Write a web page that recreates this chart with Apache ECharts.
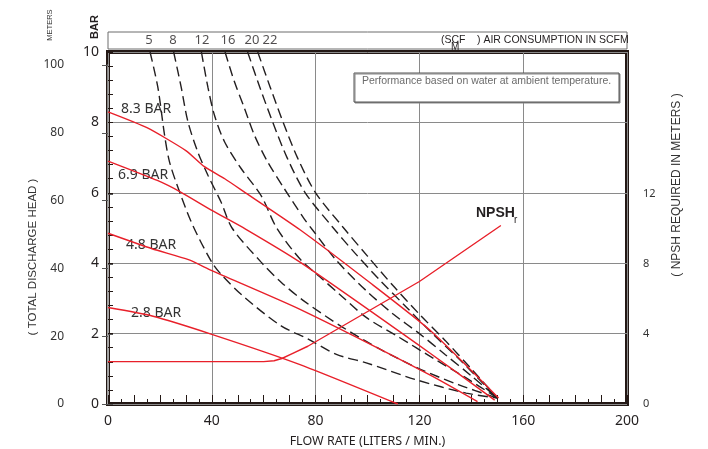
<!DOCTYPE html>
<html lang="en">
<head>
<meta charset="UTF-8">
<title>Pump performance curve</title>
<script src="https://cdn.jsdelivr.net/npm/echarts/dist/echarts.min.js"></script>
</head>
<body style="margin:0;background:#fff">
<div id="box" style="width:708px;height:449px;"></div>
<script>
    // red head curves (flow l/min, head bar)
    var bar83 = [[0, 8.3], [15, 7.85], [30, 7.2], [37, 6.75], [45, 6.4], [53, 6.0], [74, 4.95], [100, 3.5], [124, 2.1], [150.5, 0.17]];
    var bar69 = [[0, 6.9], [19, 6.35], [28, 6.02], [40, 5.5], [53, 4.97], [74, 4.03], [124, 1.45], [149, 0.11]];
    var bar48 = [[0, 4.85], [17, 4.41], [31, 4.1], [40, 3.79], [74, 2.69], [124, 0.83], [142.4, 0.07]];
    var bar28 = [[0, 2.74], [17, 2.5], [40, 1.98], [74, 1.12], [111.7, 0]];
    var barNames = ["8.3 BAR", "6.9 BAR", "4.8 BAR", "2.8 BAR"];

    // dashed air consumption curves (SCFM)
    var scfm5 = [[16.2, 10], [19.2, 9], [21.8, 7.64], [23.7, 6.88], [27.6, 6.02], [32.7, 5.07], [40, 4.03], [44, 3.65], [52.6, 3.03], [66.7, 2.22], [77, 1.85], [88, 1.41], [99.5, 1.17], [118.7, 0.69], [138, 0.31], [150, 0.17]];
    var scfm8 = [[25.3, 10], [28.2, 9], [30.8, 8.02], [34.6, 7.16], [38.5, 6.5], [43.6, 5.73], [47.8, 5.0], [59, 4.03], [66.7, 3.46], [76, 2.9], [90, 2.2], [105, 1.55], [120, 1.0], [135, 0.55], [150, 0.17]];
    var scfm12 = [[36, 10], [38.5, 9], [41, 8.21], [44.9, 7.45], [51.3, 6.69], [59, 5.92], [65, 5.0], [74, 4.12], [81.5, 3.62], [89.2, 3.12], [99.5, 2.46], [112.3, 1.89], [125.1, 1.31], [138, 0.74], [150, 0.17]];
    var scfm16 = [[45.1, 10], [48.7, 9.16], [52.6, 8.4], [56.4, 7.64], [61.5, 6.88], [68, 6.11], [75.6, 5.26], [79, 4.93], [88, 4.08], [99.5, 3.22], [110, 2.55], [120, 2.0], [130, 1.4], [140, 0.8], [150, 0.17]];
    var scfm20 = [[53.8, 10], [58.5, 9], [63.5, 8], [69, 7], [76, 6], [86.5, 5.03], [95, 4.3], [105, 3.5], [115, 2.75], [125, 2.0], [135, 1.3], [143, 0.7], [150, 0.17]];
    var scfm22 = [[57.7, 10], [62.5, 9], [67.5, 8], [73, 7], [80, 6], [90.5, 5.03], [100, 4.2], [110, 3.35], [120, 2.55], [130, 1.8], [140, 1.0], [150, 0.17]];
    var scfmLabels = ["5", "8", "12", "16", "20", "22"];
    var scfmLabelFlow = [15.8, 25, 36.2, 46.2, 55.5, 62.4];

    // NPSH required (flow l/min, meters)
    var npsh = [[0, 2.42], [60, 2.42], [64, 2.47], [67, 2.6], [71, 2.88], [77, 3.3], [120, 7.0], [151.4, 10.2]];

    var dark = "#231815";
    var red = "#e8202a";
    var gridLine = "#8a8a8a";

    var box = echarts.init(document.getElementById("box"));

    var dashed = [scfm5, scfm8, scfm12, scfm16, scfm20, scfm22].map(function (d) {
        return {
            type: "line", xAxisIndex: 0, yAxisIndex: 0, data: d,
            smooth: 0.3, showSymbol: false, symbol: "none", silent: true,
            lineStyle: { color: "#231f20", width: 1.4, type: [10, 5] }
        };
    });
    var reds = [bar83, bar69, bar48, bar28].map(function (d) {
        return {
            type: "line", xAxisIndex: 0, yAxisIndex: 0, data: d,
            smooth: 0.2, showSymbol: false, symbol: "none", silent: true, z: 3,
            lineStyle: { color: red, width: 1.4 }
        };
    });

    var labelPos = [[121, 112], [118, 178], [126, 248], [131, 316]];
    var texts = barNames.map(function (n, i) {
        return {
            type: "text", left: labelPos[i][0], top: labelPos[i][1] - 10,
            style: { text: n, fontSize: 14, fontFamily: "Noto Sans", fill: "#333" }
        };
    });

    var option = {
        animation: false,
        textStyle: { fontFamily: "Noto Sans" },
        grid: [
            { left: 108, right: 81, top: 52, bottom: 45, outerBoundsMode: "none", show: true, borderWidth: 4, borderColor: dark },
            { left: 108, right: 81, top: 65, bottom: 45, outerBoundsMode: "none" },
            { left: 108, right: 81, top: 194, bottom: 45, outerBoundsMode: "none" },
            { left: 108, right: 81, top: 32, height: 17, outerBoundsMode: "none", show: true, borderWidth: 1, borderColor: "#6d6d6d" }
        ],
        xAxis: [
            {
                type: "value", gridIndex: 0, min: 0, max: 200, interval: 40,
                axisLine: { show: false }, axisTick: { show: false },
                axisLabel: { color: "#231f20", fontSize: 14, margin: 10 },
                splitLine: { show: true, lineStyle: { color: gridLine, width: 1 } },
                name: "FLOW RATE (LITERS / MIN.)", nameLocation: "middle", nameGap: 31,
                nameTextStyle: { fontSize: 12.5, color: "#231f20" }
            },
            {
                type: "value", gridIndex: 0, min: 0, max: 200, interval: 10, position: "bottom",
                axisLine: { show: false }, axisLabel: { show: false }, splitLine: { show: false },
                axisTick: { show: true, inside: true, length: 9, lineStyle: { color: dark, width: 1 } },
                minorTick: { show: true, splitNumber: 2, length: 5, lineStyle: { color: dark, width: 1 } }
            },
            { type: "value", gridIndex: 1, min: 0, max: 200, show: false },
            { type: "value", gridIndex: 2, min: 0, max: 200, show: false },
            { type: "value", gridIndex: 3, min: 0, max: 200, show: false }
        ],
        yAxis: [
            {
                type: "value", gridIndex: 0, min: 0, max: 10, interval: 2,
                axisLine: { show: false },
                axisTick: { show: true, inside: true, length: 5, lineStyle: { color: dark } },
                minorTick: { show: true, splitNumber: 5, length: 5, lineStyle: { color: dark } },
                axisLabel: { color: "#231f20", fontSize: 14, margin: 9 },
                splitLine: { show: true, lineStyle: { color: gridLine, width: 1 } }
            },
            {
                type: "value", gridIndex: 1, min: 0, max: 100, interval: 20, position: "left", offset: 41,
                axisLine: { show: true, lineStyle: { color: "#a8a8a8", width: 1.5 } },
                axisTick: { show: true, length: 6, lineStyle: { color: "#555" } },
                axisLabel: { color: "#333", fontSize: 12, margin: 3 },
                splitLine: { show: false }
            },
            {
                type: "value", gridIndex: 2, min: 0, max: 12, interval: 4, position: "right", offset: 11,
                axisLine: { show: true, lineStyle: { color: "#a8a8a8", width: 1.5 } },
                axisTick: { show: true, length: 5, lineStyle: { color: "#555" } },
                axisLabel: { color: "#333", fontSize: 11, margin: 5 },
                splitLine: { show: false }
            },
            { type: "value", gridIndex: 3, min: 0, max: 1, show: false }
        ],
        series: dashed.concat(reds).concat([
            {
                type: "line", xAxisIndex: 3, yAxisIndex: 2, data: npsh,
                smooth: false, showSymbol: false, symbol: "none", silent: true, z: 3,
                lineStyle: { color: red, width: 1.4 }
            },
            {
                type: "scatter", xAxisIndex: 4, yAxisIndex: 3, symbolSize: 0, silent: true,
                data: scfmLabelFlow.map(function (f, i) { return { value: [f, 0.5], name: scfmLabels[i] }; }),
                label: { show: true, position: "inside", formatter: "{b}", color: "#231f20", fontSize: 13 }
            }
        ]),
        graphic: texts.concat([
            {
                type: "rect", shape: { x: 354, y: 73, width: 265, height: 29 },
                style: { fill: "#fff", stroke: "#555", lineWidth: 1, shadowColor: "#888", shadowOffsetX: 1, shadowOffsetY: 1 },
                z: 10
            },
            {
                type: "text", left: 362, top: 76, z: 11,
                style: { text: "Performance based on water at ambient temperature.", fontSize: 10.5, fontFamily: "Liberation Sans", fill: "#6b6b6b" }
            },
            { type: "text", left: 441, top: 35, style: { text: "(SCF", fontSize: 10.5, fontFamily: "Liberation Sans", fill: "#231f20" } },
            { type: "text", left: 451, top: 42, style: { text: "M", fontSize: 10, fontFamily: "Liberation Sans", fill: "#231f20" } },
            { type: "text", left: 477, top: 35, style: { text: ") AIR CONSUMPTION IN SCFM", fontSize: 10.5, fontFamily: "Liberation Sans", fill: "#231f20" } },
            { type: "text", left: 476, top: 206, style: { text: "NPSH", fontSize: 14, fontWeight: "bold", fontFamily: "Liberation Sans", fill: "#231f20" } },
            { type: "text", left: 514, top: 215, style: { text: "r", fontSize: 10, fontFamily: "Liberation Sans", fill: "#231f20" } },
            {
                type: "text", x: 33, y: 257, rotation: Math.PI / 2,
                style: { text: "( TOTAL DISCHARGE HEAD )", fontSize: 11.5, fill: "#333", align: "center", verticalAlign: "middle" }
            },
            {
                type: "text", x: 677, y: 185, rotation: Math.PI / 2,
                style: { text: "( NPSH REQUIRED IN METERS )", fontSize: 12, fill: "#333", align: "center", verticalAlign: "middle" }
            },
            {
                type: "text", x: 50, y: 25, rotation: Math.PI / 2,
                style: { text: "METERS", fontSize: 7.5, fill: "#333", align: "center", verticalAlign: "middle" }
            },
            {
                type: "text", x: 95, y: 27, rotation: Math.PI / 2,
                style: { text: "BAR", fontSize: 11, fontWeight: "bold", fill: "#231f20", align: "center", verticalAlign: "middle" }
            }
        ])
    };
    box.setOption(option);
</script>
</body>
</html>
